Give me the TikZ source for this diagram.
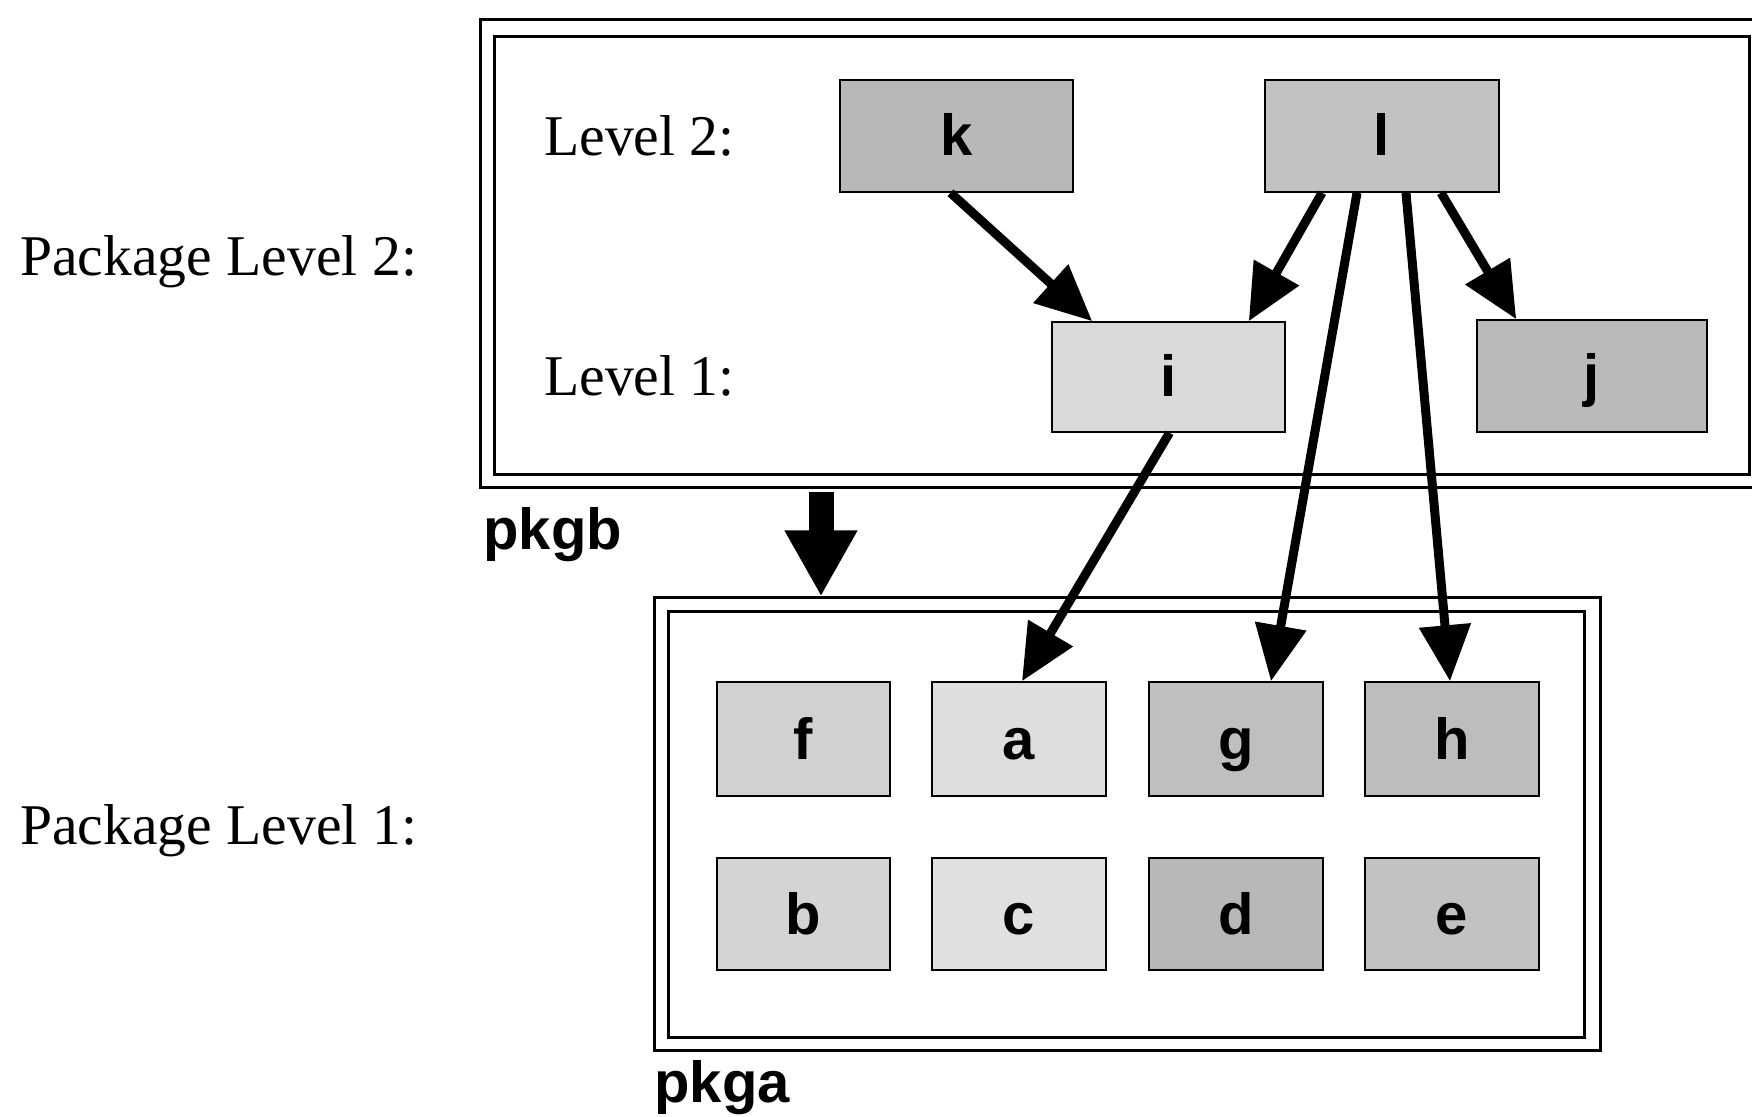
\documentclass[tikz,border=0pt]{standalone}
\usepackage{fontspec}
\setmainfont{Liberation Serif}
\setsansfont{Liberation Sans}
\usetikzlibrary{arrows.meta,calc}
\begin{document}
\begin{tikzpicture}[x=0.5pt,y=-0.5pt,
  serif/.style={font=\fontsize{28.8}{32}\selectfont\rmfamily, inner sep=0, anchor=west},
  tag/.style={font=\fontsize{29}{32}\selectfont\sffamily\bfseries, inner sep=0, anchor=west},
  cls/.style={draw=black, line width=0.8pt, inner sep=0, text height=24pt, text depth=4pt,
    font=\fontsize{29}{32}\selectfont\sffamily\bfseries},
  frame/.style={draw=black, line width=1.5pt, inner sep=0, fill=none},
  dep/.style={line width=4.5pt, -{Triangle[length=28pt,width=25pt]}},
  bigdep/.style={line width=12.5pt, -{Triangle[length=33pt,width=34pt]}}
]
\useasboundingbox[fill=white] (0,0) rectangle (1752,1117);

% left labels
\node[serif] (pl2) at (20,262) {Package Level 2:};
\node[serif] (pl1) at (20,831) {Package Level 1:};

% pkgb containers
\node[frame, minimum width=645pt, minimum height=234pt] (pkgbout) at (1125,254) {};
\node[frame, minimum width=627.5pt, minimum height=219pt] (pkgbin) at (1121.5,256) {};
\node[tag] (pkgb) at (483,535) {pkgb};

\node[serif] (lv2) at (544,136) {Level 2:};
\node[serif] (lv1) at (544,376) {Level 1:};

% pkgb classes
\node[cls, fill=black!28, minimum width=116.5pt, minimum height=56pt] (k) at (956.5,136) {k};
\node[cls, fill=black!24, minimum width=117pt, minimum height=56pt] (l) at (1382,136) {l};
\node[cls, fill=black!15, minimum width=116.5pt, minimum height=55pt] (i) at (1168.5,377) {i};
\node[cls, fill=black!27, minimum width=115pt, minimum height=56pt] (j) at (1592,376) {j};

% pkga containers
\node[frame, minimum width=473pt, minimum height=226pt] (pkgaout) at (1127,824) {};
\node[frame, minimum width=458pt, minimum height=212.5pt] (pkgain) at (1126,824.5) {};
\node[tag] (pkga) at (654,1088) {pkga};

% pkga classes
\node[cls, fill=black!18, minimum width=86.5pt, minimum height=57pt] (f) at (803.5,739) {f};
\node[cls, fill=black!13, minimum width=87pt, minimum height=57pt] (a) at (1019,739) {a};
\node[cls, fill=black!25, minimum width=87pt, minimum height=57pt] (g) at (1236,739) {g};
\node[cls, fill=black!26, minimum width=87pt, minimum height=57pt] (h) at (1452,739) {h};
\node[cls, fill=black!17, minimum width=86.5pt, minimum height=56pt] (b) at (803.5,914) {b};
\node[cls, fill=black!12, minimum width=87pt, minimum height=56pt] (c) at (1019,914) {c};
\node[cls, fill=black!28, minimum width=87pt, minimum height=56pt] (d) at (1236,914) {d};
\node[cls, fill=black!24, minimum width=87pt, minimum height=56pt] (e) at (1452,914) {e};

% dependencies
\draw[dep] ($(k.south)+(-6,0)$) -- ($(i.north west)+(41,0)$);
\draw[dep] ($(l.south)+(-60,0)$) -- ($(i.north east)+(-37,0)$);
\draw[dep] ($(l.south)+(-25,0)$) -- ($(g.north)+(35,0)$);
\draw[dep] ($(l.south)+(24,0)$) -- ($(h.north)+(-2,0)$);
\draw[dep] ($(l.south)+(59,0)$) -- ($(j.north west)+(40,0)$);
\draw[dep] ($(i.south)+(1,0)$) -- ($(a.north)+(3,0)$);

% package dependency
\coordinate (bs) at (821,492);
\draw[bigdep] (bs) -- (bs |- pkgaout.north);
\end{tikzpicture}
\end{document}
